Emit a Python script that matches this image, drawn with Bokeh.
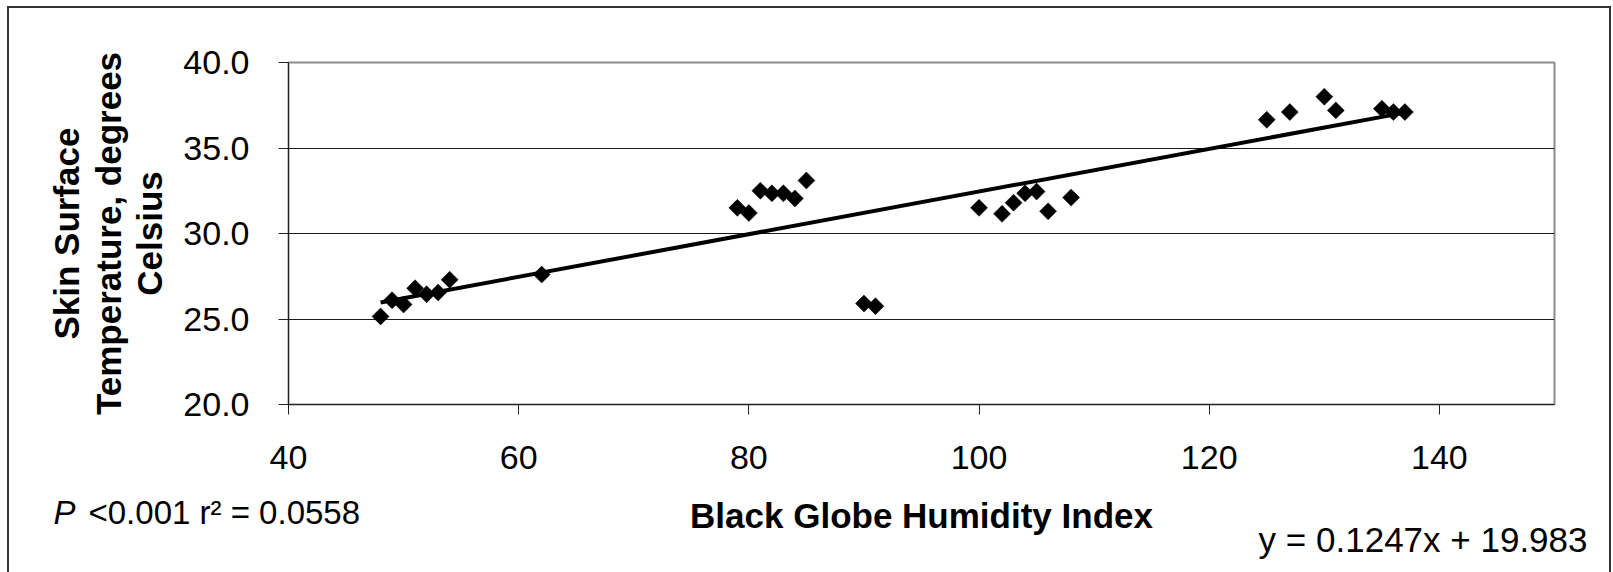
import math

from bokeh.embed import file_html
from bokeh.models import (ColumnDataSource, FixedTicker, PrintfTickFormatter,
                          Range1d, Title)
from bokeh.plotting import figure
from bokeh.resources import INLINE

# Black Globe Humidity Index vs. skin surface temperature (deg C)
bghi = [48, 49, 50, 51, 52, 53, 54, 62,
        79, 80, 81, 82, 83, 84, 85,
        90, 91,
        100, 102, 103, 104, 105, 106, 108,
        125, 127, 130, 131, 135, 136, 137]
skin_temp = [25.15, 26.1, 25.85, 26.8, 26.45, 26.55, 27.3, 27.6,
             31.5, 31.2, 32.5, 32.35, 32.35, 32.05, 33.1,
             25.9, 25.75,
             31.5, 31.15, 31.8, 32.35, 32.45, 31.3, 32.1,
             36.65, 37.1, 38.0, 37.2, 37.3, 37.1, 37.1]

# linear fit reported on the chart
slope = 0.1247
intercept = 19.983

x_ticks = [40, 60, 80, 100, 120, 140]
y_ticks = [20, 25, 30, 35, 40]

FONT = "Liberation Sans"

W, H = 1613, 572
FRAME_L, FRAME_T, FRAME_R, FRAME_B = 288, 62, 59, 168

# chart border drawn by the host element (white bands mask the outer margin)
border_css = ", ".join([
    "inset 7px 0 0 0 white", "inset 0 6px 0 0 white", "inset -2px 0 0 0 white",
    "inset 9px 0 0 0 #333333", "inset 0 8px 0 0 #333333", "inset -4px 0 0 0 #333333",
])

p = figure(width=W, height=H, output_backend="svg", toolbar_location=None,
           x_range=Range1d(40, 150), y_range=Range1d(20, 40),
           min_border_left=FRAME_L, min_border_right=FRAME_R,
           min_border_top=FRAME_T, min_border_bottom=FRAME_B,
           styles={"background-color": "white", "box-shadow": border_css})
p.background_fill_color = "white"
p.border_fill_color = None
p.outline_line_color = "#8c8c8c"
p.outline_line_width = 2

# axes
for ax in (p.xaxis, p.yaxis):
    ax.axis_line_color = "#222222"
    ax.axis_line_width = 1
    ax.major_tick_line_color = "#222222"
    ax.major_tick_in = 0
    ax.major_tick_out = 10
    ax.minor_tick_line_color = None
    ax.major_label_text_font = FONT
    ax.major_label_text_font_size = "34px"
    ax.major_label_text_color = "black"
    ax.axis_label_text_font = FONT
    ax.axis_label_text_font_size = "35px"
    ax.axis_label_text_font_style = "bold"
    ax.axis_label_text_color = "black"
p.xaxis.ticker = FixedTicker(ticks=x_ticks)
p.yaxis.ticker = FixedTicker(ticks=y_ticks)
p.yaxis.formatter = PrintfTickFormatter(format="%.1f")
p.xaxis.major_label_standoff = 31
p.yaxis.major_label_standoff = 29
p.yaxis.axis_label = "Skin Surface\nTemperature, degrees\nCelsius"
p.yaxis.axis_label_standoff = 11
p.yaxis.axis_label_text_line_height = 1.07

p.xgrid.grid_line_color = None
p.ygrid.ticker = FixedTicker(ticks=y_ticks[1:-1])
p.ygrid.grid_line_color = "#1a1a1a"
p.ygrid.grid_line_width = 1

# trend line across the observed range
x_lo, x_hi = min(bghi), max(bghi)
trend = ColumnDataSource(dict(x=[x_lo, x_hi],
                              y=[slope * x_lo + intercept, slope * x_hi + intercept]))
p.line("x", "y", source=trend, line_color="black", line_width=4)

pts = ColumnDataSource(dict(x=bghi, y=skin_temp))
p.scatter("x", "y", source=pts, marker="square", size=12, angle=math.pi / 4,
          fill_color="black", line_color="black", line_width=0.5)


def below_text(text, align, offset, standoff, size="34px", style="normal"):
    p.add_layout(Title(text=text, align=align, offset=offset, standoff=standoff,
                       vertical_align="top", text_font=FONT, text_font_size=size,
                       text_font_style=style, text_color="black"), "below")


# blank band under the tick labels
below_text(" ", "left", 0, 3, size="33px")
# statistics (two pieces sharing one line) level with the axis title,
# then the regression equation below at the right
below_text("P", "left", -235, -39, size="33px", style="italic")
below_text("<0.001 r\u00b2 = 0.0558", "left", -200, -39, size="33px")
below_text("Black Globe Humidity Index", "center", 0, -36, size="35px", style="bold")
below_text(f"y = {slope}x + {intercept}", "right", -33, 2, size="35px")

open("out.html", "w").write(file_html(p, INLINE))
